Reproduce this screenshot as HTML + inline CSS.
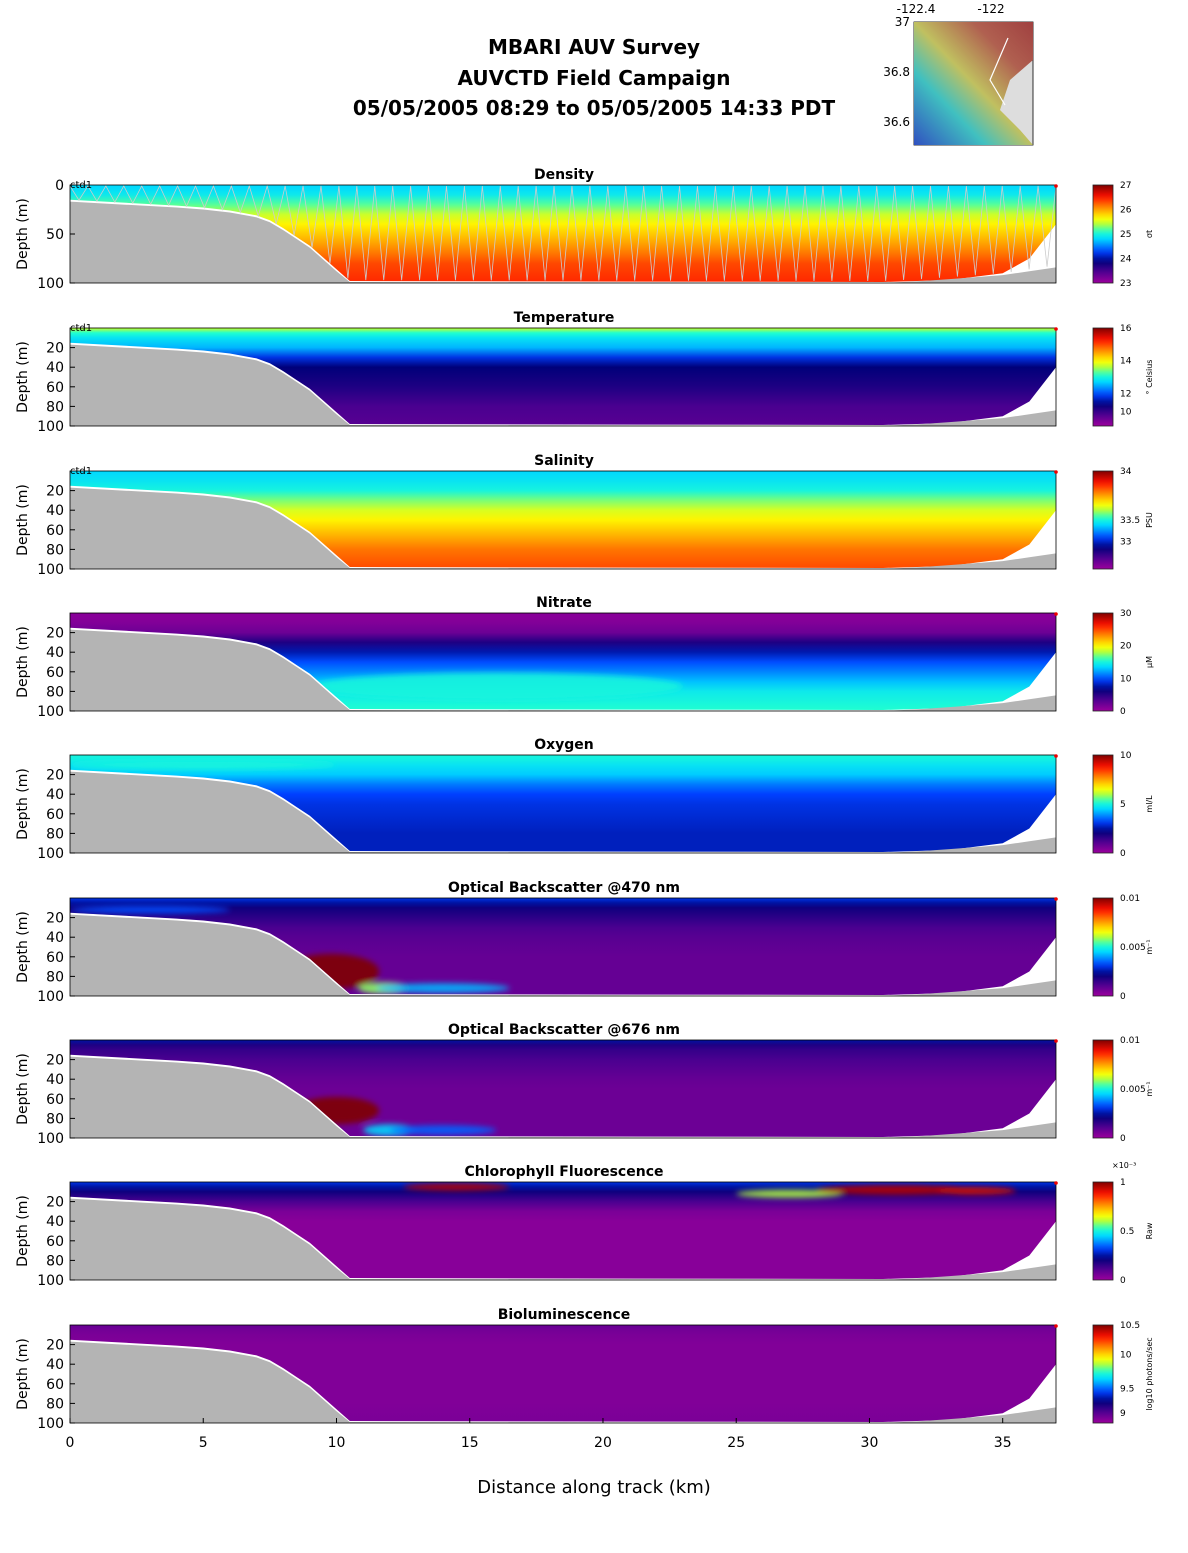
<!DOCTYPE html>
<html><head><meta charset="utf-8"><style>
body{margin:0;background:#fff;font-family:"Liberation Sans","DejaVu Sans",sans-serif}
svg text{font-family:"DejaVu Sans","Liberation Sans",sans-serif}
</style></head><body>
<svg id="s" width="1188" height="1548" xmlns="http://www.w3.org/2000/svg">
<rect width="1188" height="1548" fill="#fff"/>
<g font-weight="bold" font-size="20" text-anchor="middle">
<text x="594" y="54">MBARI AUV Survey</text>
<text x="594" y="85">AUVCTD Field Campaign</text>
<text x="594" y="115">05/05/2005 08:29  to 05/05/2005 14:33 PDT</text>
</g>
<g font-size="12">
<defs><linearGradient id="mapg" x1="0" y1="1" x2="1" y2="0"><stop offset="0" stop-color="#3050c0"/><stop offset="0.3" stop-color="#40c0c0"/><stop offset="0.5" stop-color="#c0c060"/><stop offset="0.75" stop-color="#b06050"/><stop offset="1" stop-color="#a04040"/></linearGradient></defs>
<rect x="914" y="22" width="119" height="123" fill="#ddd" stroke="#000" stroke-width="0.8"/>
<path d="M914 22 L1033 22 L1033 60 L1010 80 L1000 110 L1020 130 L1033 145 L914 145 Z" fill="url(#mapg)"/>
<polyline points="1008,38 990,80 1005,105" stroke="#fff" stroke-width="1.2" fill="none"/>
<text x="916" y="13" text-anchor="middle">-122.4</text><text x="991" y="13" text-anchor="middle">-122</text>
<text x="910" y="26" text-anchor="end">37</text><text x="910" y="76" text-anchor="end">36.8</text><text x="910" y="126" text-anchor="end">36.6</text>
</g>
<g id="panels"></g>
<g font-size="14" text-anchor="middle" id="xaxis"></g>
<text x="594" y="1493" font-size="18" text-anchor="middle">Distance along track (km)</text>
</svg>
<script>
const NS="http://www.w3.org/2000/svg";
const titles=["Density","Temperature","Salinity","Nitrate","Oxygen","Optical Backscatter @470 nm","Optical Backscatter @676 nm","Chlorophyll Fluorescence","Bioluminescence"];
const units=["σt","° Celsius","PSU","μM","ml/L","m⁻¹","m⁻¹","Raw","log10 photons/sec"];
const cbTicks=[["27","26","25","24","23"],["16","14","12","10"],["34","33.5","33"],["30","20","10","0"],["10","5","0"],["0.01","0.005","0"],["0.01","0.005","0"],["1","0.5","0"],["10.5","10","9.5","9"]];
const cbTickFrac=[[0,0.25,0.5,0.75,1],[0,0.33,0.67,0.85],[0,0.5,0.72],[0,0.33,0.67,1],[0,0.5,1],[0,0.5,1],[0,0.5,1],[0,0.5,1],[0,0.3,0.65,0.9]];
const profDepth=[0,5,10,20,30,40,50,60,70,80,100];
const profDensity=[0.45,0.46,0.48,0.55,0.62,0.67,0.71,0.75,0.79,0.83,0.86];
const profTemp=[0.62,0.52,0.47,0.42,0.3,0.22,0.2,0.18,0.15,0.12,0.1];
const profSal=[0.45,0.46,0.47,0.5,0.57,0.63,0.67,0.71,0.75,0.79,0.83];
const profNit=[0.03,0.03,0.04,0.07,0.18,0.26,0.33,0.38,0.43,0.48,0.52];
const profOxy=[0.5,0.49,0.47,0.44,0.37,0.32,0.3,0.29,0.28,0.27,0.27];
const profOb470=[0.3,0.25,0.2,0.16,0.12,0.1,0.09,0.08,0.08,0.08,0.08];
const profOb676=[0.25,0.18,0.15,0.12,0.1,0.08,0.07,0.07,0.07,0.07,0.07];
const profChl=[0.3,0.25,0.2,0.12,0.05,0.03,0.03,0.03,0.03,0.03,0.03];
const profBio=[0.08,0.06,0.05,0.04,0.04,0.04,0.04,0.04,0.04,0.04,0.05];
const profiles=[profDensity,profTemp,profSal,profNit,profOxy,profOb470,profOb676,profChl,profBio];
const bathyKm=[0,2,4,5,6,7,7.5,8,8.5,9,9.5,10,10.5,30.5,32,33,35,36,37];
const bathyDepth=[17,20,23,25,28,33,38,46,55,64,76,88,99,100,98,96,92,88,84];
const dataBotKm=[0,2,4,5,6,7,7.5,8,8.5,9,9.5,10,10.5,30.5,33,35,36,37];
const dataBotDepth=[15,18,21,23,26,31,36,44,53,62,74,86,98,99,97,90,75,40];
// features: panel, km, depth, rx(km), ry(m), value
const featPanel=[5,5,5,5,6,6,6,7,7,7,7,3,4];
const featKm=[9.8,11.8,14,3,10,12,14,14.5,27,31,34,16,5];
const featDepth=[75,92,92,12,72,92,92,5,12,8,9,75,10];
const featRx=[1.8,1,2.5,3,1.6,1,2,2,2,3,1.5,7,5];
const featRy=[18,6,5,4,14,6,5,4,4,5,4,14,5];
const featVal=[1,0.58,0.42,0.33,1,0.45,0.35,0.95,0.6,0.95,0.92,0.5,0.5];
const cmapPos=[0,0.12,0.22,0.32,0.45,0.52,0.6,0.66,0.78,0.88,1];
const cmapCol=["#9c009c","#4a0090","#00007a","#0040ff","#00d8ff","#20ffd0","#b0ff40","#ffff00","#ff8000","#ff1000","#800000"];
const X0=70,X1=1056,KMAX=37;
const xs=k=>X0+(X1-X0)*k/KMAX;
const tops=[185,328,471,613,755,898,1040,1182,1325],H=98;
function el(t,a,p){const e=document.createElementNS(NS,t);for(const k in a)e.setAttribute(k,a[k]);p.appendChild(e);return e;}
function cm(v){v=Math.max(0,Math.min(1,v));for(let i=1;i<cmapPos.length;i++){if(v<=cmapPos[i]){const t=(v-cmapPos[i-1])/(cmapPos[i]-cmapPos[i-1]);const a=hex(cmapCol[i-1]),b=hex(cmapCol[i]);return `rgb(${a.map((c,j)=>Math.round(c+(b[j]-c)*t)).join(",")})`;}}return cmapCol[cmapCol.length-1];}
function hex(h){return [1,3,5].map(i=>parseInt(h.substr(i,2),16));}
const root=document.getElementById('panels');
const defs=el('defs',{},document.getElementById('s'));
const blur=el('filter',{id:'bl',x:'-50%',y:'-50%',width:'200%',height:'200%'},defs);el('feGaussianBlur',{stdDeviation:3},blur);
tops.forEach((top,p)=>{
  const ys=d=>top+H*d/100;
  const g=el('g',{},root);
  
  
  const gr=el('linearGradient',{id:'g'+p,x1:0,y1:0,x2:0,y2:1},defs);
  profDepth.forEach((d,i)=>el('stop',{offset:d/100,'stop-color':cm(profiles[p][i])},gr));
  let pts=`${xs(0)},${ys(0)} ${xs(KMAX)},${ys(0)} `;
  for(let i=dataBotKm.length-1;i>=0;i--)pts+=`${xs(dataBotKm[i])},${ys(dataBotDepth[i])} `;
  const cp=el('clipPath',{id:'c'+p},defs);el('polygon',{points:pts},cp);
  el('rect',{x:X0,y:top,width:X1-X0,height:H,fill:'#fff'},g);
  const dg=el('g',{'clip-path':`url(#c${p})`},g);
  const field=el('rect',{x:X0,y:top,width:X1-X0,height:H,fill:`url(#g${p})`},dg);
  
  
  const fg=el('g',{filter:'url(#bl)'},dg);
  featPanel.forEach((fp,i)=>{if(fp!==p)return;
    const e=el('ellipse',{cx:xs(featKm[i]),cy:ys(featDepth[i]),rx:xs(featRx[i])-X0,ry:H*featRy[i]/100,fill:cm(featVal[i]),opacity:0.9},fg);
    
    });
  if(p===0){let s='';const n=110;for(let i=0;i<=n;i++){const k=KMAX*i/n;let bd=100;for(let j=1;j<bathyKm.length;j++){if(k<=bathyKm[j]){bd=bathyDepth[j-1]+(bathyDepth[j]-bathyDepth[j-1])*(k-bathyKm[j-1])/(bathyKm[j]-bathyKm[j-1]);break;}}s+=`${xs(k)},${ys(i%2?bd-2:1)} `;}
    const tr=el('polyline',{points:s,fill:'none',stroke:'#ccc','stroke-width':0.8},g);
    
    }
  let bp=`${xs(0)},${ys(100)} `;bathyKm.forEach((k,i)=>bp+=`${xs(k)},${ys(bathyDepth[i])} `);bp+=`${xs(KMAX)},${ys(100)}`;
  const b=el('polygon',{points:bp,fill:'#b4b4b4'},g);
  
  
  el('rect',{x:X0,y:top,width:X1-X0,height:H,fill:'none',stroke:'#000','stroke-width':0.8},g);
  el('circle',{cx:X1,cy:top+1,r:1.8,fill:'#e00'},g);
  const t=el('text',{x:564,y:top-6,'font-size':14,'font-weight':'bold','text-anchor':'middle'},g);t.textContent=titles[p];
  
  
  if(p<3){const c=el('text',{x:70,y:top+3,'font-size':10},g);c.textContent='ctd1';}
  const yt=p===0?[0,50,100]:[20,40,60,80,100];
  yt.forEach(d=>{el('line',{x1:X0,x2:X0+5,y1:ys(d),y2:ys(d),stroke:'#000'},g);const tx=el('text',{x:X0-6,y:ys(d)+5,'font-size':14,'text-anchor':'end'},g);tx.textContent=d;});
  const yl=el('text',{x:27,y:top+H/2,'font-size':14,'text-anchor':'middle',transform:`rotate(-90 27 ${top+H/2})`},g);yl.textContent='Depth (m)';
  
  
  const cg=el('linearGradient',{id:'cb'+p,x1:0,y1:1,x2:0,y2:0},defs);
  for(let i=0;i<=20;i++)el('stop',{offset:i/20,'stop-color':cm(i/20)},cg);
  const cb=el('rect',{x:1093,y:top,width:20,height:H,fill:`url(#cb${p})`,stroke:'#222','stroke-width':0.8},g);
  
  
  cbTicks[p].forEach((l,i)=>{const tx=el('text',{x:1120,y:top+H*cbTickFrac[p][i]+3,'font-size':9},g);tx.textContent=l;});
  const ul=el('text',{x:1152,y:top+H/2,'font-size':8,'text-anchor':'middle',transform:`rotate(-90 1152 ${top+H/2})`},g);ul.textContent=units[p];
  if(p===7){const e=el('text',{x:1112,y:top-14,'font-size':8},g);e.textContent='×10⁻³';}
});
const xa=document.getElementById('xaxis');
[0,5,10,15,20,25,30,35].forEach(k=>{const t=el('text',{x:xs(k),y:1447},xa);t.textContent=k;el('line',{x1:xs(k),x2:xs(k),y1:1423,y2:1418,stroke:'#000'},xa);});
</script>
</body></html>
